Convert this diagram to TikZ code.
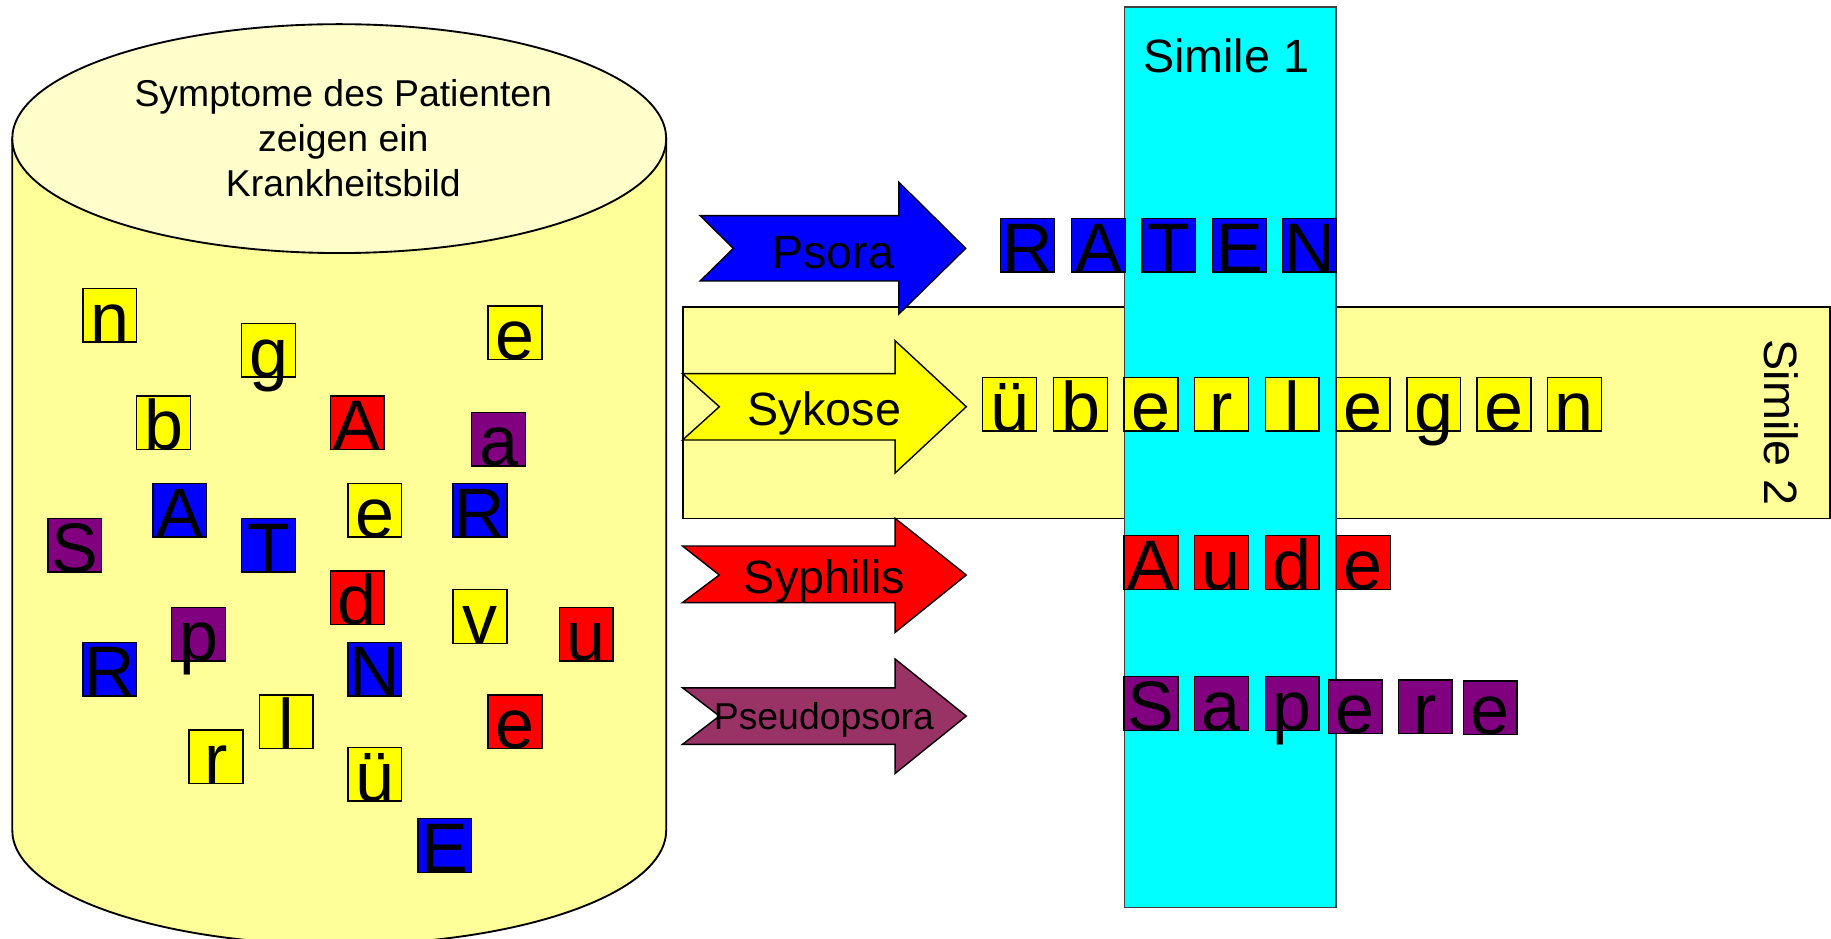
\documentclass[tikz,border=0pt]{standalone}
\usepackage{fontspec}
\setmainfont{Liberation Sans}
\definecolor{cylbody}{HTML}{FFFF99}
\definecolor{cyltop}{HTML}{FFFFCC}
\definecolor{tileblue}{HTML}{0000FF}
\definecolor{tilered}{HTML}{FF0000}
\definecolor{tileyellow}{HTML}{FFFF00}
\definecolor{tilepurple}{HTML}{800080}
\definecolor{pseudo}{HTML}{993366}
\definecolor{simcyan}{HTML}{00FFFF}
\tikzset{
  tilebox/.style={draw=black, line width=0.6pt, minimum width=23pt, minimum height=23pt, inner sep=0pt, outer sep=0pt},
  tileletter/.style={inner sep=0pt, font=\fontsize{30}{36}\selectfont},
  shapeline/.style={draw=black, line width=0.6pt},
  arrowlabel/.style={inner sep=0pt, anchor=base, font=\fontsize{20}{24}\selectfont},
  titleline/.style={inner sep=0pt, anchor=base, font=\fontsize{16}{19}\selectfont},
}
% a coloured square with one letter sitting on its bottom edge
\newcommand{\lettertile}[5]{%
  \node[tilebox, fill=#4, anchor=north west] (#1) at (#2,#3) {};
  \node[tileletter, anchor=base] (#1-t) at (#1.south) {#5};
}
\begin{document}
\begin{tikzpicture}[x=0.5pt,y=-0.5pt]
\useasboundingbox (0,0) rectangle (1568,804);

% patient cylinder
\path[draw=black, line width=0.8pt, fill=cylbody]
  (10.5,118.7) -- (10.5,711) arc[start angle=180, end angle=0, x radius=280, y radius=98]
  -- (570.5,118.7) -- cycle;
\path[draw=black, line width=0.8pt, fill=cyltop] (290.5,118.7) ellipse [x radius=280, y radius=98];
\node[titleline] (t1) at (294,91.4) {Symptome des Patienten};
\node[titleline] (t2) at (294,129.9) {zeigen ein};
\node[titleline] (t3) at (294,168.4) {Krankheitsbild};

% horizontal band: Simile 2
\path[draw=black, line width=0.6pt, fill=cylbody] (585,263) rectangle (1567,444);
\node[inner sep=0pt, rotate=-90, font=\fontsize{20}{24}\selectfont] (sim2) at (1525,362) {Simile 2};

% vertical band: Simile 1
\path[draw=black!75, line width=0.6pt, fill=simcyan] (963,6) rectangle (1144,777);
\node[arrowlabel] (sim1) at (1050,62) {Simile 1};

% miasm arrows
\path[shapeline, fill=tileblue] (599.6,184.7) -- (769.7,184.7) -- (769.7,156) -- (827,212.7)
  -- (769.7,269) -- (769.7,240.6) -- (599.6,240.6) -- (628,212.7) -- cycle;
\node[arrowlabel] (psora) at (713.5,229.8) {Psora};

\path[shapeline, fill=tileyellow] (584.5,320) -- (766.6,320) -- (766.6,291.8) -- (827.5,348.3)
  -- (766.6,405) -- (766.6,376.8) -- (584.5,376.8) -- (616,348.3) -- cycle;
\node[arrowlabel] (sykose) at (706,364) {Sykose};

\path[shapeline, fill=tilered] (584.5,467.6) -- (766.6,467.6) -- (766.6,443.9) -- (827.5,492.4)
  -- (766.6,541.5) -- (766.6,516) -- (584.5,516) -- (616,492.4) -- cycle;
\node[arrowlabel] (syphilis) at (706,508) {Syphilis};

\path[shapeline, fill=pseudo] (584.5,589) -- (766.6,589) -- (766.6,564.4) -- (827.5,613.2)
  -- (766.6,662.3) -- (766.6,637.4) -- (584.5,637.4) -- (616,613.2) -- cycle;
\node[arrowlabel, font=\fontsize{16}{19}\selectfont] (pseudopsora) at (705.6,625) {Pseudopsora};

% scattered letters in the cylinder
\lettertile{c1}{71}{247}{tileyellow}{n}
\lettertile{c2}{207}{277}{tileyellow}{g}
\lettertile{c3}{418}{262}{tileyellow}{e}
\lettertile{c4}{117}{339}{tileyellow}{b}
\lettertile{c5}{283}{339}{tilered}{A}
\lettertile{c6}{404}{353}{tilepurple}{a}
\lettertile{c7}{41}{444}{tilepurple}{S}
\lettertile{c8}{131}{414}{tileblue}{A}
\lettertile{c9}{207}{444}{tileblue}{T}
\lettertile{c10}{298}{414}{tileyellow}{e}
\lettertile{c11}{388}{414}{tileblue}{R}
\lettertile{c12}{283}{489}{tilered}{d}
\lettertile{c13}{388}{505}{tileyellow}{v}
\lettertile{c14}{479}{520}{tilered}{u}
\lettertile{c15}{147}{520}{tilepurple}{p}
\lettertile{c16}{71}{550}{tileblue}{R}
\lettertile{c17}{298}{550}{tileblue}{N}
\lettertile{c18}{222}{595}{tileyellow}{l}
\lettertile{c19}{418}{595}{tilered}{e}
\lettertile{c20}{162}{625}{tileyellow}{r}
\lettertile{c21}{298}{640}{tileyellow}{ü}
\lettertile{c22}{358}{701}{tileblue}{E}

% RATEN
\lettertile{w1a}{856.8}{187}{tileblue}{R}
\lettertile{w1b}{917.6}{187}{tileblue}{A}
\lettertile{w1c}{978}{187}{tileblue}{T}
\lettertile{w1d}{1038.4}{187}{tileblue}{E}
\lettertile{w1e}{1098.5}{187}{tileblue}{N}

% überlegen
\lettertile{w2a}{841.6}{323.1}{tileyellow}{ü}
\lettertile{w2b}{902.3}{323.1}{tileyellow}{b}
\lettertile{w2c}{962.7}{323.1}{tileyellow}{e}
\lettertile{w2d}{1023}{323.1}{tileyellow}{r}
\lettertile{w2e}{1083.6}{323.1}{tileyellow}{l}
\lettertile{w2f}{1144.4}{323.1}{tileyellow}{e}
\lettertile{w2g}{1204.8}{323.1}{tileyellow}{g}
\lettertile{w2h}{1265}{323.1}{tileyellow}{e}
\lettertile{w2i}{1325.2}{323.1}{tileyellow}{n}

% Aude
\lettertile{w3a}{962.7}{458.7}{tilered}{A}
\lettertile{w3b}{1023}{458.7}{tilered}{u}
\lettertile{w3c}{1083.6}{458.7}{tilered}{d}
\lettertile{w3d}{1144.6}{458.7}{tilered}{e}

% Sapere
\lettertile{w4a}{962.7}{579.5}{tilepurple}{S}
\lettertile{w4b}{1023}{579.5}{tilepurple}{a}
\lettertile{w4c}{1083.6}{579.5}{tilepurple}{p}
\lettertile{w4d}{1137.6}{582.3}{tilepurple}{e}
\lettertile{w4e}{1197.5}{582.3}{tilepurple}{r}
\lettertile{w4f}{1253.2}{583.2}{tilepurple}{e}
\end{tikzpicture}
\end{document}
